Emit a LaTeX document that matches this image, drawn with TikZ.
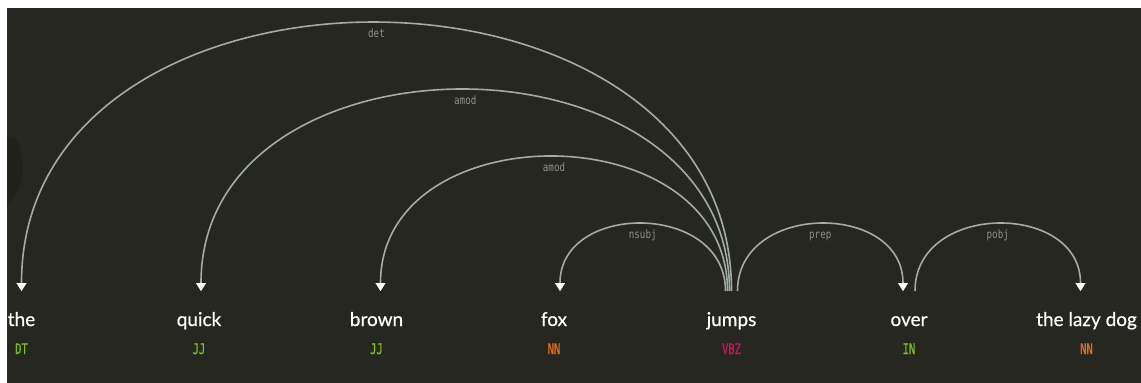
\documentclass[tikz,border=0pt]{standalone}
\usepackage{fontspec}
\setmainfont{Lato}[FakeBold=0.6]
\newfontfamily\tagfont[FakeStretch=0.72,FakeBold=1]{DejaVu Sans Mono}
\newfontfamily\labfont[FakeStretch=0.8]{DejaVu Sans Mono}
\usetikzlibrary{arrows.meta,calc}
\definecolor{bg}{RGB}{39,39,34}
\definecolor{blobc}{RGB}{32,32,29}
\definecolor{arcgray}{RGB}{160,172,164}
\definecolor{labgray}{RGB}{145,145,140}
\definecolor{tgreen}{RGB}{124,190,36}
\definecolor{torange}{RGB}{232,108,22}
\definecolor{tmagenta}{RGB}{196,22,98}
\begin{document}
\begin{tikzpicture}[x=1pt,y=-1pt,
  word/.style={anchor=base, inner sep=0pt, text=white, font=\fontsize{19}{19}\selectfont},
  tag/.style={anchor=base, inner sep=0pt, font=\tagfont\fontsize{14.5}{14.5}\selectfont},
  dep/.style={draw=arcgray, line width=1.6pt,
    -{Triangle[length=8pt,width=10pt,color=white,fill=white,line width=0.01pt]}},
  lab/.style={anchor=base, inner sep=0pt, text=labgray, yshift=-14.5pt,
    font=\labfont\fontsize{11.5}{11.5}\selectfont}
]
% canvas
\useasboundingbox (0,0) rectangle (1141,383);
\fill[white] (0,0) rectangle (1141,383);
\fill[bg] (7,7.5) rectangle (1141,383);
\fill[blobc] (7,138) .. controls (16,130) and (24,150) .. (23,170)
  .. controls (21,190) and (13,203) .. (7,203) -- cycle;

% words
\node[word] (the)   at (21.5,326)  {the};
\node[word] (quick) at (199,326)   {quick};
\node[word] (brown) at (376.5,326) {brown};
\node[word] (fox)   at (554,326)   {fox};
\node[word] (jumps) at (731.5,326) {jumps};
\node[word] (over)  at (909,326)   {over};
\node[word] (dog)   at (1086.5,326){the lazy dog};

% part-of-speech tags
\node[tag, text=tgreen]   (t-the)   at (21.5,354)  {DT};
\node[tag, text=tgreen]   (t-quick) at (199,354)   {JJ};
\node[tag, text=tgreen]   (t-brown) at (376.5,354) {JJ};
\node[tag, text=torange]  (t-fox)   at (554,354)   {NN};
\node[tag, text=tmagenta] (t-jumps) at (731.5,354) {VBZ};
\node[tag, text=tgreen]   (t-over)  at (909,354)   {IN};
\node[tag, text=torange]  (t-dog)   at (1086.5,354){NN};

% arc end points above the words
\coordinate (the-in)    at ($(the.base)+(0,-35)$);
\coordinate (quick-in)  at ($(quick.base)+(2,-35)$);
\coordinate (brown-in)  at ($(brown.base)+(4,-35)$);
\coordinate (fox-in)    at ($(fox.base)+(6,-35)$);
\coordinate (over-in)   at ($(over.base)+(-6,-35)$);
\coordinate (dog-in)    at ($(dog.base)+(-6,-35)$);
\coordinate (jumps-det)   at ($(jumps.base)+(0,-35)$);
\coordinate (jumps-amod1) at ($(jumps.base)+(-2,-35)$);
\coordinate (jumps-amod2) at ($(jumps.base)+(-4,-35)$);
\coordinate (jumps-nsubj) at ($(jumps.base)+(-6,-35)$);
\coordinate (jumps-prep)  at ($(jumps.base)+(6,-35)$);
\coordinate (over-out)    at ($(over.base)+(6,-35)$);

% dependency arcs
\draw[dep] (jumps-det) .. controls ($(jumps-det)+(0,-357.3)$) and ($(the-in)+(0,-357.3)$) .. (the-in)
  node[lab, pos=0.5] {det};
\draw[dep] (jumps-amod1) .. controls ($(jumps-amod1)+(0,-268)$) and ($(quick-in)+(0,-268)$) .. (quick-in)
  node[lab, pos=0.5] {amod};
\draw[dep] (jumps-amod2) .. controls ($(jumps-amod2)+(0,-178.7)$) and ($(brown-in)+(0,-178.7)$) .. (brown-in)
  node[lab, pos=0.5] {amod};
\draw[dep] (jumps-nsubj) .. controls ($(jumps-nsubj)+(0,-89.3)$) and ($(fox-in)+(0,-89.3)$) .. (fox-in)
  node[lab, pos=0.5] {nsubj};
\draw[dep] (jumps-prep) .. controls ($(jumps-prep)+(0,-89.3)$) and ($(over-in)+(0,-89.3)$) .. (over-in)
  node[lab, pos=0.5] {prep};
\draw[dep] (over-out) .. controls ($(over-out)+(0,-89.3)$) and ($(dog-in)+(0,-89.3)$) .. (dog-in)
  node[lab, pos=0.5] {pobj};
\end{tikzpicture}
\end{document}
